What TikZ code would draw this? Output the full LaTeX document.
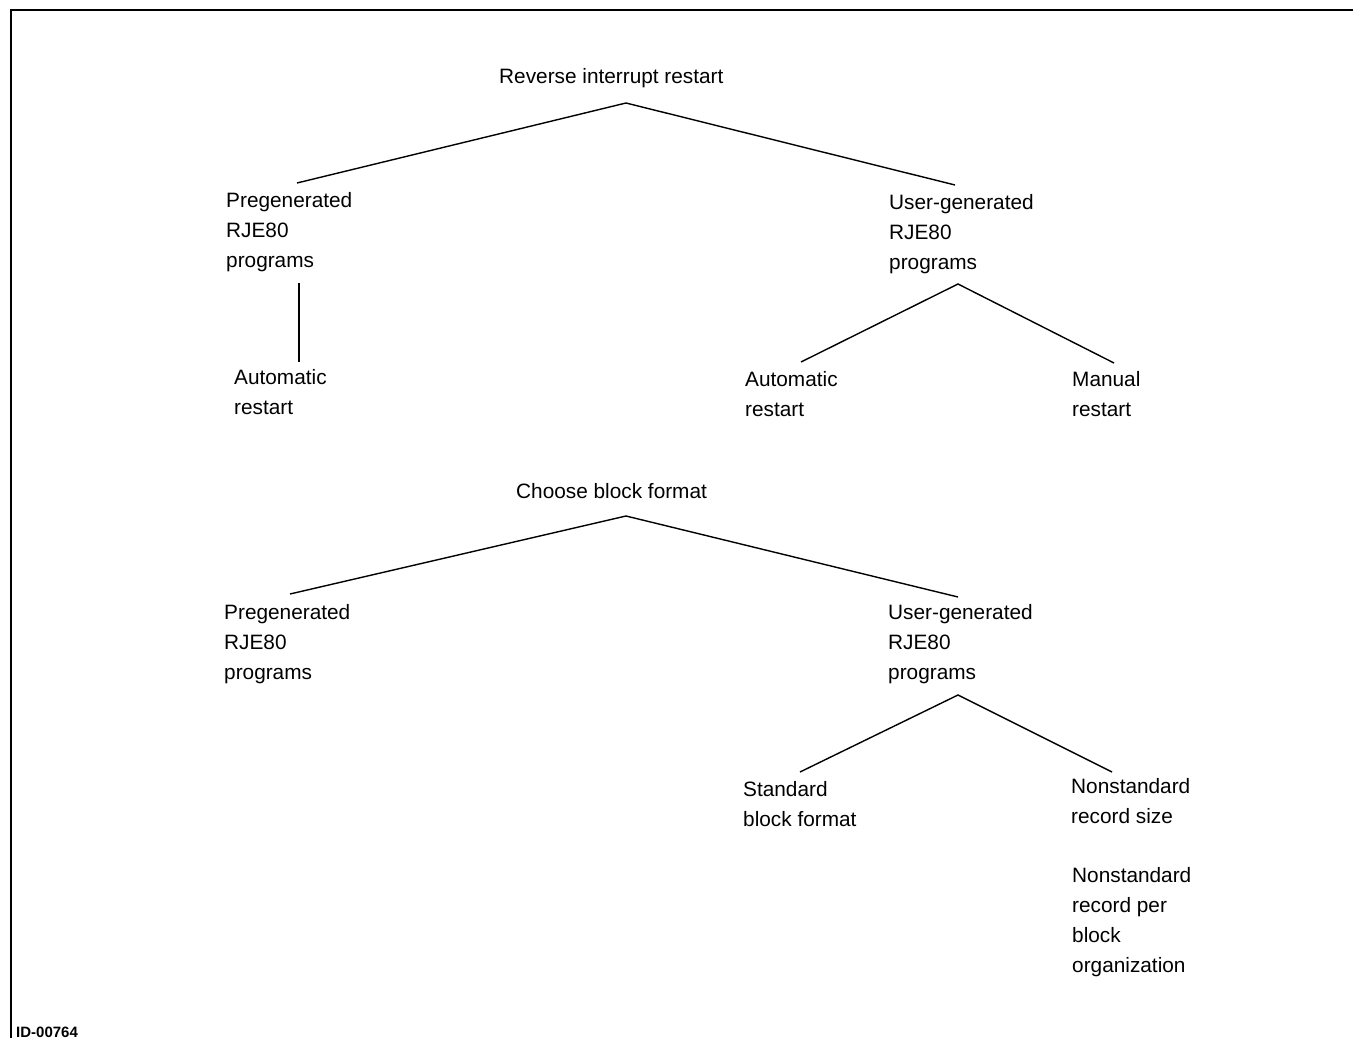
\documentclass[tikz,border=0pt]{standalone}
\usepackage{fontspec}
\setmainfont{Liberation Sans}
\begin{document}
\begin{tikzpicture}[x=1pt,y=-1pt,
  lbl/.style={anchor=base west, inner sep=0pt, align=left, font=\fontsize{20.8}{30}\selectfont},
  conn/.style={line width=1.4pt},
  frame/.style={line width=1.8pt}]
\useasboundingbox (0,0) rectangle (1353,1038);
% frame
\coordinate (fb) at (11,1038);
\coordinate (fc) at (11,10);
\coordinate (fr) at (1353,10);
\draw[frame] (fb) -- (fc) -- (fr);

% tree 1 (node positions give the baseline of the last line)
\node[lbl] (root1) at (499,84) {Reverse interrupt restart};
\node[lbl] (pg1) at (226,267) {Pregenerated\\RJE80\\programs};
\node[lbl] (ug1) at (889,269) {User-generated\\RJE80\\programs};
\node[lbl] (ar1) at (234,414) {Automatic\\restart};
\node[lbl] (ar2) at (745,416) {Automatic\\restart};
\node[lbl] (mr) at (1072,416) {Manual\\restart};

\coordinate (a1) at (626,103);
\coordinate (a1l) at (297,183);
\coordinate (a1r) at (955,185);
\coordinate (v1t) at (299,283);
\coordinate (v1b) at (299,362);
\coordinate (a2) at (958,284);
\coordinate (a2l) at (801,362);
\coordinate (a2r) at (1114,363);
\draw[conn] (a1l) -- (a1) -- (a1r);
\draw[conn] (v1t) -- (v1b);
\draw[conn] (a2l) -- (a2) -- (a2r);

% tree 2
\node[lbl] (root2) at (516,498) {Choose block format};
\node[lbl] (pg2) at (224,679) {Pregenerated\\RJE80\\programs};
\node[lbl] (ug2) at (888,679) {User-generated\\RJE80\\programs};
\node[lbl] (sb) at (743,826) {Standard\\block format};
\node[lbl] (nrs) at (1071,823) {Nonstandard\\record size};
\node[lbl] (nrb) at (1072,972) {Nonstandard\\record per\\block\\organization};

\coordinate (a3) at (626,516);
\coordinate (a3l) at (290,594);
\coordinate (a3r) at (958,597);
\coordinate (a4) at (958,695);
\coordinate (a4l) at (800,772);
\coordinate (a4r) at (1112,772);
\draw[conn] (a3l) -- (a3) -- (a3r);
\draw[conn] (a4l) -- (a4) -- (a4r);

\node[anchor=base west, inner sep=0pt, font=\fontsize{15}{17}\selectfont\bfseries] (id) at (16,1037) {ID-00764};
\end{tikzpicture}
\end{document}
